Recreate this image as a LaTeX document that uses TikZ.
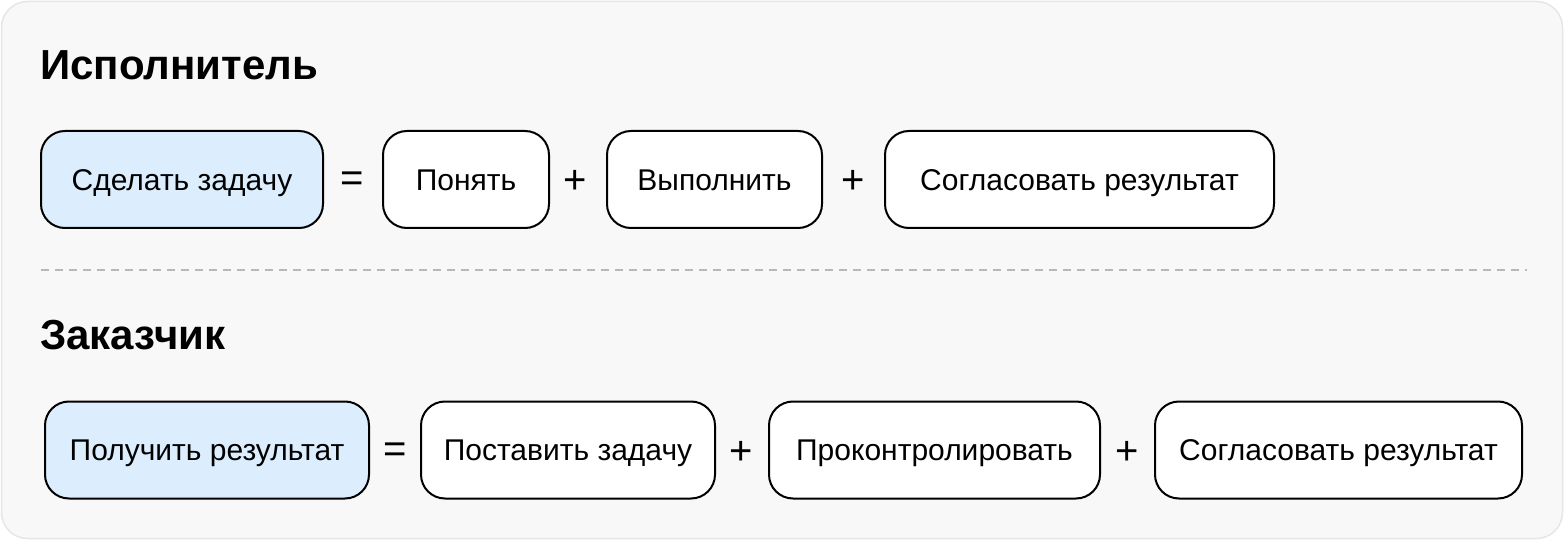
\documentclass[tikz,border=0pt]{standalone}
\usepackage{fontspec}
\setmainfont{Liberation Sans}
\definecolor{bgfill}{HTML}{F8F8F8}
\definecolor{bgline}{HTML}{E6E6E6}
\definecolor{bluefill}{HTML}{DCEEFD}
\definecolor{dashgray}{HTML}{B8B8B8}
\begin{document}
\begin{tikzpicture}[x=1pt,y=-1pt,
  box/.style={draw=black, line width=2pt, rounded corners=24pt, fill=white,
    minimum height=97pt, inner sep=0pt, text height=21.5pt, text depth=0pt,
    font=\fontsize{30}{34}\selectfont},
  bluebox/.style={box, fill=bluefill},
  op/.style={font=\fontsize{40}{44}\selectfont, inner sep=0pt, anchor=base},
  heading/.style={font=\fontsize{42}{48}\selectfont\bfseries, anchor=base west, inner sep=0pt}]
\useasboundingbox (0,0) rectangle (1564,540);
\draw[fill=bgfill, draw=bgline, line width=1.5pt, rounded corners=26pt] (1.5,1.5) rectangle (1562.5,538.5);
% headings
\node[heading] (h1) at (40,80) {Исполнитель};
\node[heading] (h2) at (40,349) {Заказчик};
% separator
\coordinate (s1) at (41,270);
\coordinate (s2) at (1527,270);
\draw[dashgray, line width=1.5pt, dash pattern=on 8pt off 6pt] (s1) -- (s2);
% row 1
\node[bluebox, minimum width=282pt] (a1) at (182,179.5) {Сделать задачу};
\node[op] (e1) at (352.5,192) {=};
\node[box, minimum width=166pt] (a2) at (466,179.5) {Понять};
\node[op] (p1) at (575,194) {+};
\node[box, minimum width=215pt] (a3) at (714.5,179.5) {Выполнить};
\node[op] (p2) at (853,194) {+};
\node[box, minimum width=389pt] (a4) at (1079.5,179.5) {Согласовать результат};
% row 2
\node[bluebox, minimum width=324pt] (b1) at (207,450) {Получить результат};
\node[op] (e2) at (395,462.5) {=};
\node[box, minimum width=294pt] (b2) at (568,450) {Поставить задачу};
\node[op] (p3) at (741.5,464.5) {+};
\node[box, minimum width=331pt] (b3) at (934.5,450) {Проконтролировать};
\node[op] (p4) at (1127,464.5) {+};
\node[box, minimum width=367pt] (b4) at (1338.5,450) {Согласовать результат};
\end{tikzpicture}
\end{document}
